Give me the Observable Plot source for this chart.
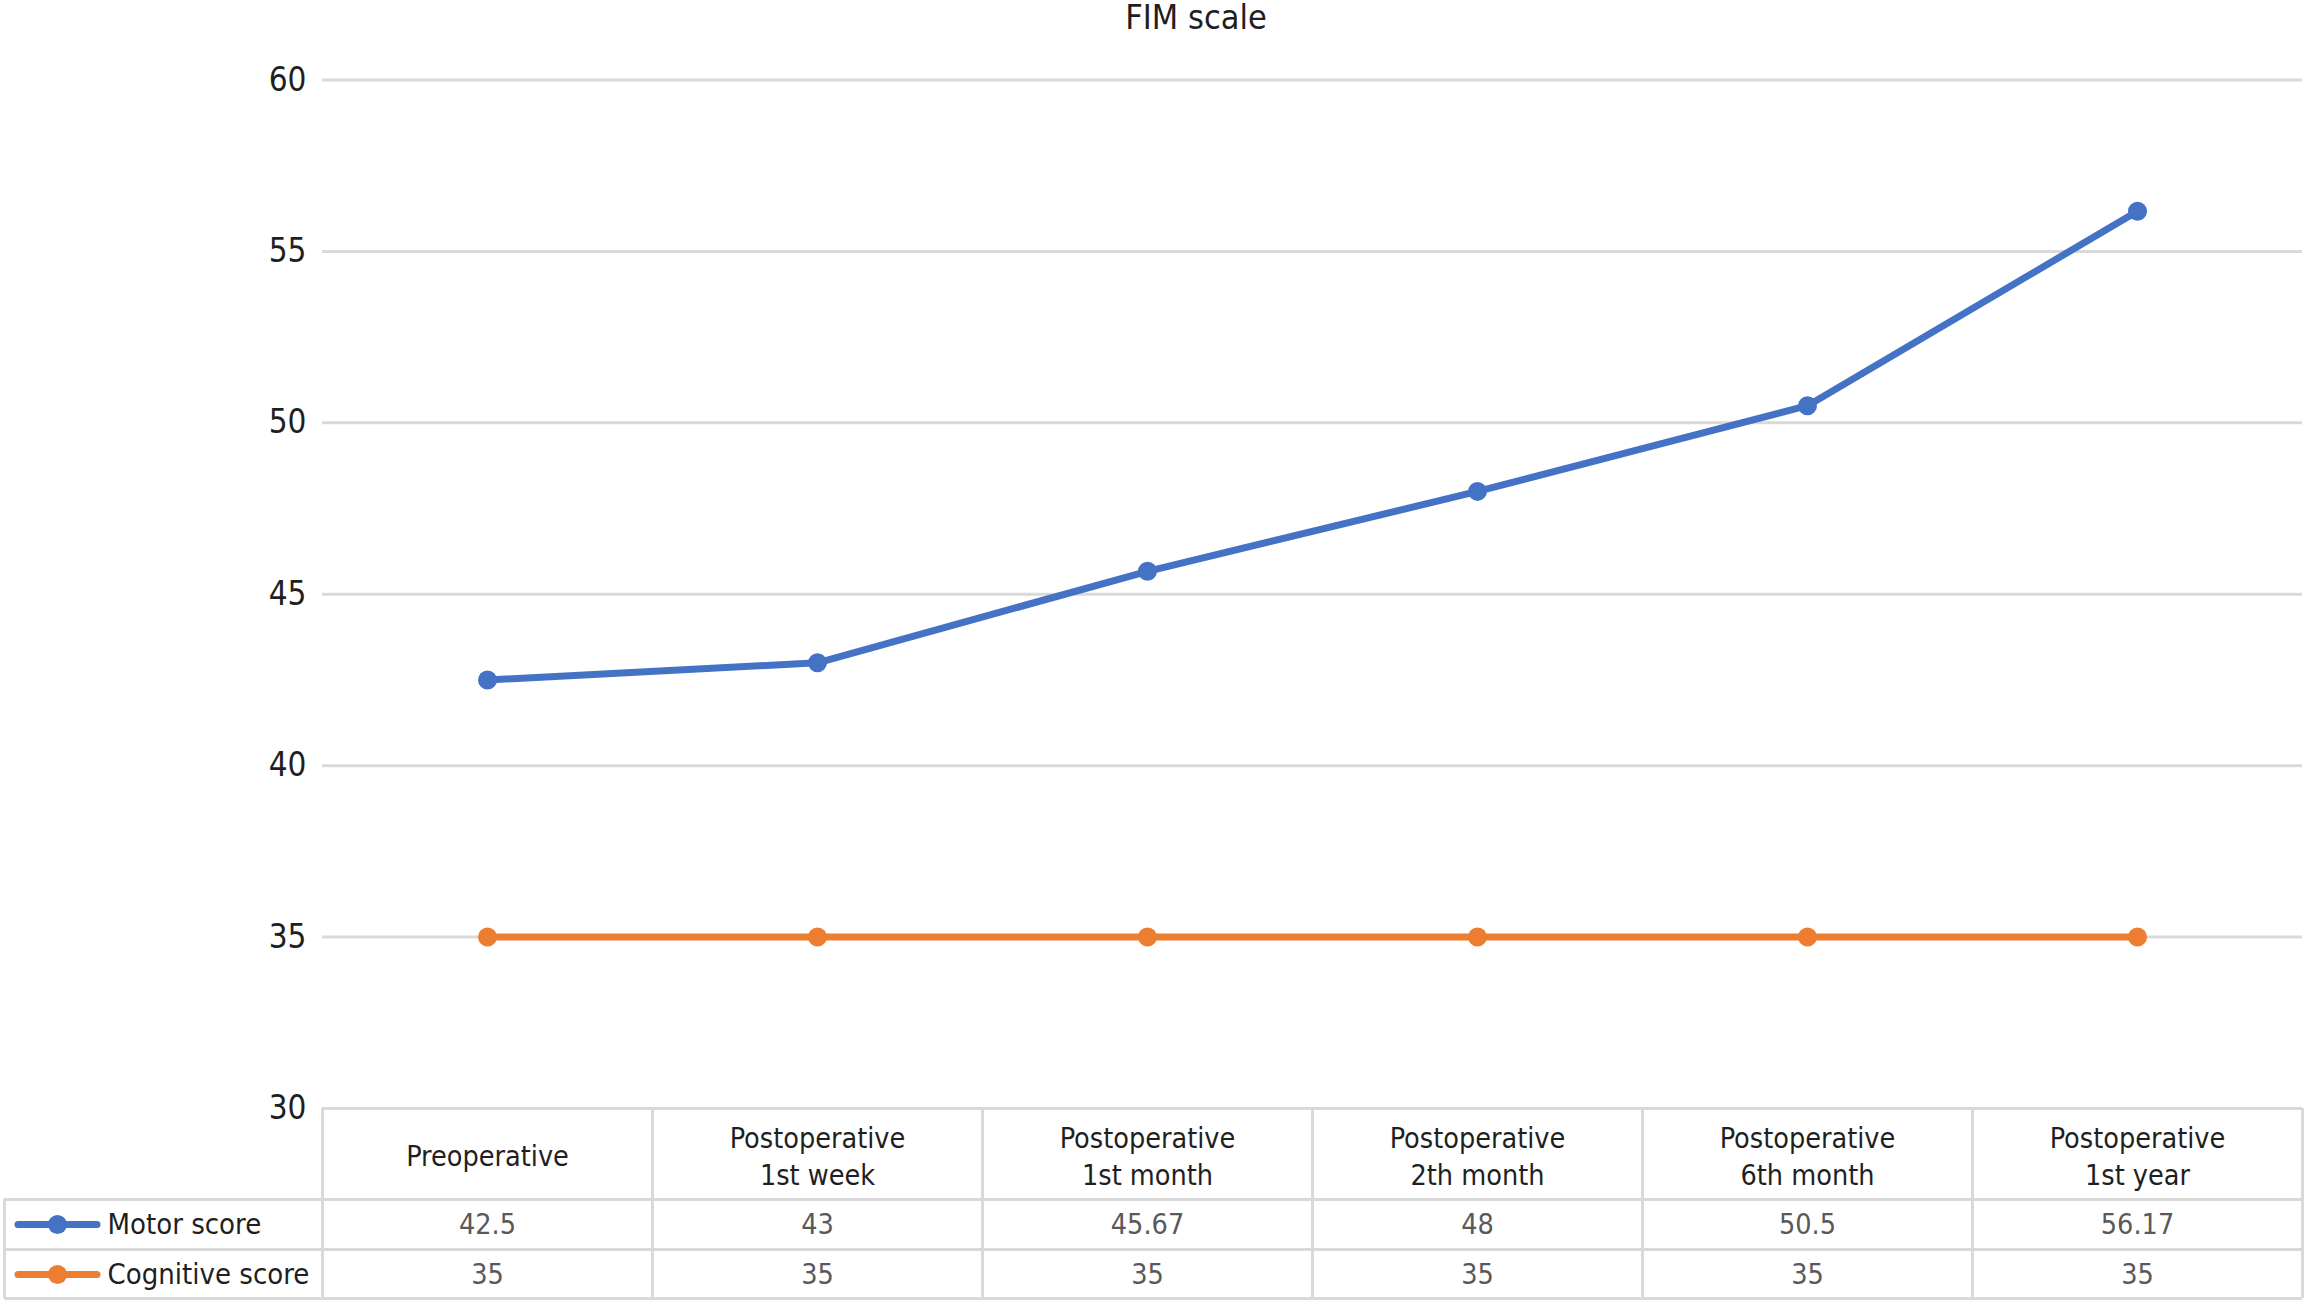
<!DOCTYPE html>
<html>
<head>
<meta charset="utf-8">
<script src="https://cdn.jsdelivr.net/npm/d3@7"></script>
<script src="https://cdn.jsdelivr.net/npm/@observablehq/plot@0.6"></script>
<style>
  html, body { margin: 0; padding: 0; background: #ffffff; }
  body { width: 2307px; height: 1306px; overflow: hidden; font-family: "DejaVu Sans Condensed", "DejaVu Sans", sans-serif; }
  #title { height: 36px; line-height: 36px; font-size: 34px; color: #1f1f1f; position: relative; }
  #title span { position: absolute; left: 1196px; top: -1px; transform: translateX(-50%); white-space: nowrap; }
</style>
</head>
<body>
<div id="title"><span>FIM scale</span></div>
<div id="chart"></div>
<script>
const categories = [
  "Preoperative",
  "Postoperative\n1st week",
  "Postoperative\n1st month",
  "Postoperative\n2th month",
  "Postoperative\n6th month",
  "Postoperative\n1st year"
];
const motorScores = [42.5, 43, 45.67, 48, 50.5, 56.17];
const cognitiveScores = [35, 35, 35, 35, 35, 35];
const seriesNames = ["Motor score", "Cognitive score"];
const seriesColors = ["#4472C4", "#ED7D31"];
const yTicks = [30, 35, 40, 45, 50, 55, 60];

const rows = categories.map((c, i) => ({i, cat: c, motor: motorScores[i], cognitive: cognitiveScores[i]}));
const series = [
  {name: seriesNames[0], color: seriesColors[0], values: rows.map(r => ({i: r.i, v: r.motor}))},
  {name: seriesNames[1], color: seriesColors[1], values: rows.map(r => ({i: r.i, v: r.cognitive}))}
];
const bounds = d3.range(categories.length + 1).map(k => k - 0.5);

const W = 2307, H = 1270;
const mL = 322, mR = 5, mT = 43.5, mB = 198;
const frameH = H - mT - mB;
const grid = "#d9d9d9";
const rowDy = [116, 166];
const tableFont = 28.5;

const marks = [];
// gridlines
marks.push(Plot.ruleY(yTicks, {stroke: grid, strokeWidth: 3}));
// table horizontal lines (below plot frame)
for (const dy of [91, 141, 190]) {
  marks.push(Plot.ruleY([yTicks[0]], {stroke: grid, strokeWidth: 3, dy, insetLeft: -318}));
}
// table column separators
marks.push(Plot.ruleX(bounds, {stroke: grid, strokeWidth: 3, insetTop: frameH, insetBottom: -190}));
// legend column left border
marks.push(Plot.ruleX([bounds[0]], {stroke: grid, strokeWidth: 3, dx: -318, insetTop: frameH + 91, insetBottom: -190}));
// header labels
marks.push(Plot.text(rows, {x: "i", text: "cat", frameAnchor: "bottom", lineAnchor: "middle", dy: 46, fontSize: tableFont, fill: "#1f1f1f", lineHeight: 1.3}));
// series lines, dots, table values, legend
series.forEach((s, k) => {
  marks.push(Plot.line(s.values, {x: "i", y: "v", stroke: s.color, strokeWidth: 7, strokeLinejoin: "round"}));
  marks.push(Plot.dot(s.values, {x: "i", y: "v", r: 9.5, fill: s.color, stroke: "none"}));
  marks.push(Plot.text(s.values, {x: "i", text: d => String(d.v), frameAnchor: "bottom", lineAnchor: "middle", dy: rowDy[k], fontSize: tableFont, fill: "#595959"}));
  marks.push(Plot.ruleY([yTicks[0]], {stroke: s.color, strokeWidth: 7, strokeLinecap: "round", dy: rowDy[k], insetLeft: -304, insetRight: 2205}));
  marks.push(Plot.dot([s.name], {frameAnchor: "bottom-left", dx: -265, dy: rowDy[k], r: 9.5, fill: s.color, stroke: "none"}));
  marks.push(Plot.text([s.name], {frameAnchor: "bottom-left", lineAnchor: "middle", text: d => d, textAnchor: "start", dx: -215, dy: rowDy[k], fontSize: 29, fill: "#1f1f1f"}));
});

const chart = Plot.plot({
  width: W,
  height: H,
  marginLeft: mL,
  marginRight: mR,
  marginTop: mT,
  marginBottom: mB,
  style: {background: "#ffffff", fontFamily: "'DejaVu Sans Condensed', 'DejaVu Sans', sans-serif", fontSize: "33px", color: "#1f1f1f", overflow: "visible"},
  x: {domain: [bounds[0], bounds[bounds.length - 1]], axis: null},
  y: {domain: [yTicks[0], yTicks[yTicks.length - 1]], ticks: yTicks, tickSize: 0, tickPadding: 16, label: null},
  marks
});
document.getElementById("chart").appendChild(chart);
</script>
</body>
</html>
